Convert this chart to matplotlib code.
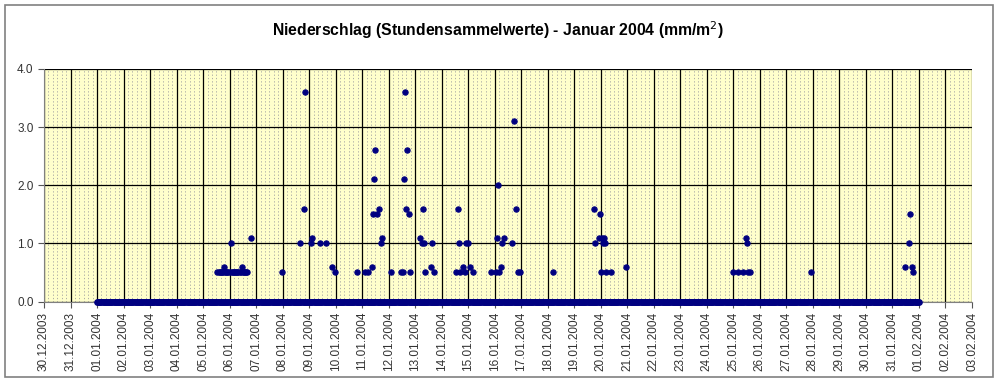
import numpy as np
import matplotlib
matplotlib.use("Agg")
import matplotlib.pyplot as plt
from matplotlib.patches import Rectangle
from matplotlib.ticker import MultipleLocator, FixedLocator, FormatStrFormatter

plt.rcParams['font.family'] = ['Liberation Sans', 'DejaVu Sans']

# hourly values, hour 0 = 01.01.2004 00:00, last = 01.02.2004 00:00
n_hours = 745
# long light drizzle 05.01 - 06.01 (0.5 mm)
drizzle_hours = [109, 110, 111, 112, 113, 114, 116, 117, 118, 119, 120, 122,
                 123, 124, 125, 126, 127, 128, 129, 130, 132, 133, 134, 135, 136]
# other non-zero hourly values (hour index, mm)
rain_hours = [115, 121, 131, 139, 167, 184, 187, 188, 194, 195, 202, 207,
              213, 215, 235, 243, 245, 249, 250, 251, 252, 253, 255, 257, 258,
              266, 275, 277, 278, 279, 280, 281, 282, 283,
              292, 294, 295, 296, 297, 302, 303, 305,
              325, 327, 328, 329, 331, 333, 334, 336, 338, 340,
              357, 361, 362, 363, 364, 366, 367, 368,
              376, 377, 379, 381, 383, 413,
              450, 451, 454, 455, 456, 457, 458, 459, 460, 461, 465, 479,
              576, 580, 585, 587, 588, 589, 591, 646,
              731, 735, 736, 738, 739]
rain_mm = [0.6, 1.0, 0.6, 1.1, 0.5, 1.0, 1.6, 3.6, 1.0, 1.1, 1.0, 1.0,
           0.6, 0.5, 0.5, 0.5, 0.5, 0.6, 1.5, 2.1, 2.6, 1.5, 1.6, 1.0, 1.1,
           0.5, 0.5, 0.5, 2.1, 3.6, 1.6, 2.6, 1.5, 0.5,
           1.1, 1.0, 1.6, 1.0, 0.5, 0.6, 1.0, 0.5,
           0.5, 1.6, 1.0, 0.5, 0.6, 0.5, 1.0, 1.0, 0.6, 0.5,
           0.5, 0.5, 1.1, 2.0, 0.5, 0.6, 1.0, 1.1,
           1.0, 3.1, 1.6, 0.5, 0.5, 0.5,
           1.6, 1.0, 1.1, 1.5, 0.5, 1.1, 1.0, 1.1, 1.0, 0.5, 0.5, 0.6,
           0.5, 0.5, 0.5, 1.1, 1.0, 0.5, 0.5, 0.5,
           0.6, 1.0, 1.5, 0.6, 0.5]

day_labels = ['30.12.2003', '31.12.2003'] + ['%02d.01.2004' % d for d in range(1, 32)] \
             + ['01.02.2004', '02.02.2004', '03.02.2004']

values = np.zeros(n_hours)
values[drizzle_hours] = 0.5
values[rain_hours] = rain_mm
hours = np.arange(n_hours)
wet = values > 0

fig = plt.figure(figsize=(10, 3.82), dpi=100)
fig.patches.append(Rectangle((0.005, 0.012), 0.988, 0.976, transform=fig.transFigure,
                             fill=False, edgecolor='#808080', linewidth=1.2))
ax = fig.add_axes([0.044, 0.2107, 0.928, 0.6087])
ax.set_facecolor('#FFFFCC')

# dry readings (several per hour in the raw data) form a solid band at 0
ax.plot(hours, np.zeros(n_hours), linestyle='-', lw=4.2, marker='o', ms=3.8,
        color='#000080', solid_capstyle='butt', clip_on=False, zorder=5)
ax.plot(hours[wet], values[wet], linestyle='none', marker='o', ms=3.8, color='#000080',
        markeredgewidth=0.8, clip_on=False, zorder=6)

ax.set_xlim(-48, 792)
ax.set_ylim(0, 4)

ax.xaxis.set_major_locator(FixedLocator(np.arange(-48, 793, 24)))
ax.set_xticklabels(day_labels, rotation=90, fontsize=8.5, color='#333333')
ax.xaxis.set_minor_locator(MultipleLocator(4))
ax.set_yticks([0, 1, 2, 3, 4])
ax.yaxis.set_major_formatter(FormatStrFormatter('%.1f'))
ax.tick_params(axis='y', labelsize=8.5, labelcolor='#333333')

ax.grid(which='major', axis='both', color='black', linewidth=0.9)
ax.grid(which='minor', axis='x', color='#a0a0a0', linestyle=(0, (1.5, 2.5)), linewidth=0.6)
ax.set_axisbelow(True)
ax.tick_params(axis='both', which='major', length=4, color='#555555', width=0.8)
ax.tick_params(axis='x', which='minor', length=0)
for side in ['top', 'right']:
    ax.spines[side].set_visible(False)
for side in ['left', 'bottom']:
    ax.spines[side].set_color('#808080')

fig.text(0.498, 0.92, 'Niederschlag (Stundensammelwerte) - Januar 2004 (mm/m$^2$)',
         ha='center', va='center', fontsize=11.3, fontweight='bold')

fig.savefig('out.png', dpi=100)
